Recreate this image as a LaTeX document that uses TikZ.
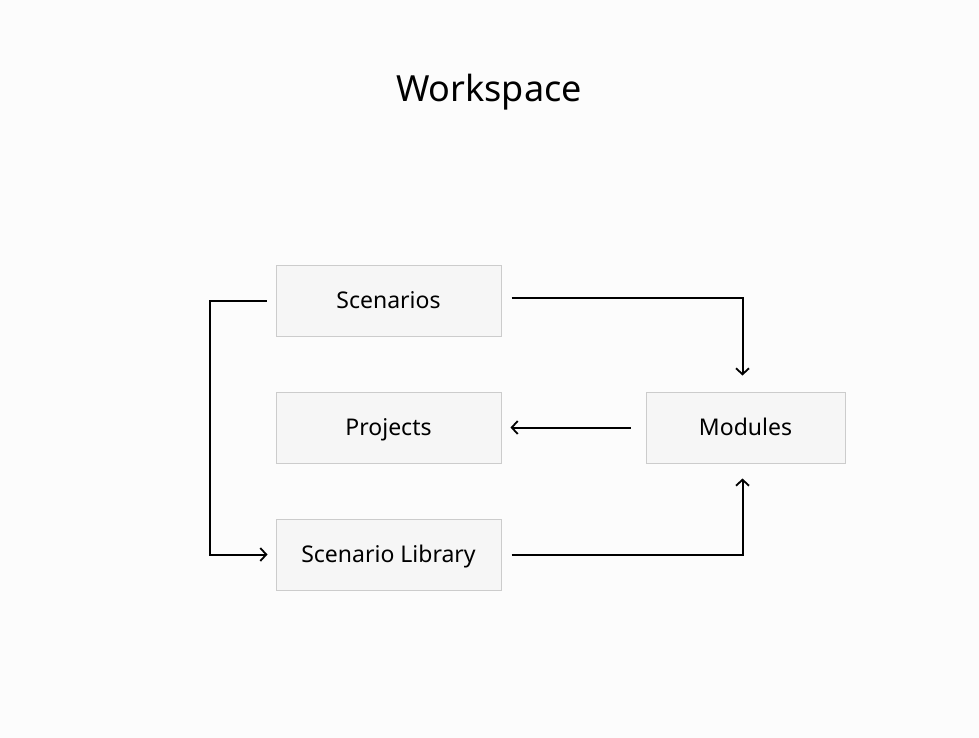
\documentclass[tikz,border=0pt]{standalone}
\usepackage{fontspec}
\setmainfont{Noto Sans}
\usetikzlibrary{arrows.meta}
\definecolor{bgcol}{HTML}{FCFCFC}
\definecolor{boxfill}{HTML}{F6F6F6}
\definecolor{boxline}{HTML}{CCCCCC}
\begin{document}
\begin{tikzpicture}[x=1pt,y=-1pt,
    box/.style={draw=boxline,fill=boxfill,line width=1pt,minimum height=71pt,inner sep=0pt,
      text height=16.5pt,text depth=0pt,font=\fontsize{23}{27}\selectfont},
    link/.style={line width=2pt,-{Straight Barb[length=6pt,width=13pt,line width=1.8pt]}}]
    \fill[bgcol] (0,0) rectangle (979,738);
    \useasboundingbox (0,0) rectangle (979,738);
    \node (title) at (489,92) {\fontsize{36}{42}\selectfont Workspace};
    \node[box,minimum width=225pt] (scen) at (388.5,300.5) {Scenarios};
    \node[box,minimum width=225pt] (proj) at (388.5,427.5) {Projects};
    \node[box,minimum width=225pt] (lib) at (388.5,554.5) {Scenario Library};
    \node[box,minimum width=199pt] (mod) at (745.5,427.5) {Modules};
    \draw[link] ([xshift=10pt,yshift=2.5pt]scen.east) -| ([xshift=-3pt,yshift=16pt]mod.north);
    \draw[link] ([xshift=-15pt]mod.west) -- ([xshift=9pt]proj.east);
    \draw[link] ([xshift=10pt]lib.east) -| ([xshift=-3pt,yshift=-15pt]mod.south);
    \draw[link] ([xshift=-9pt]scen.west) -- ++(-57,0) |- ([xshift=-8pt]lib.west);
\end{tikzpicture}
\end{document}
